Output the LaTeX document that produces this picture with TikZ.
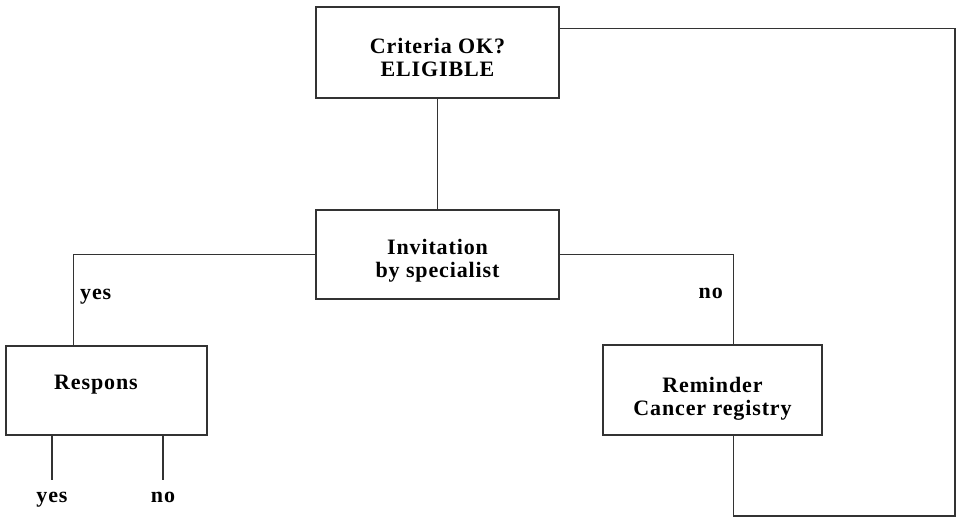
\documentclass[tikz,border=0pt]{standalone}
\usepackage{fontspec}
\setmainfont{Liberation Serif}[LetterSpace=4]
\begin{document}
\begin{tikzpicture}[x=1pt,y=-1pt,
  boxtxt/.style={font=\fontsize{22}{23}\selectfont\bfseries},
  box/.style={boxtxt, draw=black!80, line width=1.2pt, inner sep=0pt},
  link/.style={draw=black!80, line width=1.2pt},
  lbl/.style={boxtxt, inner sep=0pt}]
\useasboundingbox (0,0) rectangle (958,518);

\node[box, minimum width=243pt, minimum height=91pt, text height=21pt, text depth=19pt] (crit) at (437.5,52.5)
  {\begin{tabular}[t]{@{}c@{}}Criteria OK?\\ELIGIBLE\end{tabular}};
\node[box, minimum width=243pt, minimum height=89pt, text height=20.5pt, text depth=19.5pt] (inv) at (437.5,254.5)
  {\begin{tabular}[t]{@{}c@{}}Invitation\\by specialist\end{tabular}};
\node[box, minimum width=201pt, minimum height=89pt, text height=18.5pt, text depth=21.5pt] (resp) at (106.5,390.5)
  {Respons\hspace*{21pt}};
\node[box, minimum width=219pt, minimum height=90pt, text height=22pt, text depth=18pt] (rem) at (712.5,390)
  {\begin{tabular}[t]{@{}c@{}}Reminder\\Cancer registry\end{tabular}};

\node[lbl, anchor=base west] (yesA) at (80,300) {yes};
\node[lbl, anchor=base east] (noA) at (723,299) {no};
\node[lbl, anchor=base, outer ysep=12pt] (yesB) at (52,502) {yes};
\node[lbl, anchor=base, outer ysep=12pt] (noB) at (163,502) {no};

\coordinate (loop) at (955,516);

\draw[link] (crit) -- (inv);
\draw[link] (inv.west) -| ([xshift=68pt]resp.north west);
\draw[link] (inv.east) -| ([xshift=131pt]rem.north west);
\draw[link] ([xshift=131pt]rem.south west) |- (loop) |- ([yshift=-22pt]crit.north east);
\draw[link] (resp.south -| yesB.north) -- (yesB.north);
\draw[link] (resp.south -| noB.north) -- (noB.north);
\end{tikzpicture}
\end{document}
